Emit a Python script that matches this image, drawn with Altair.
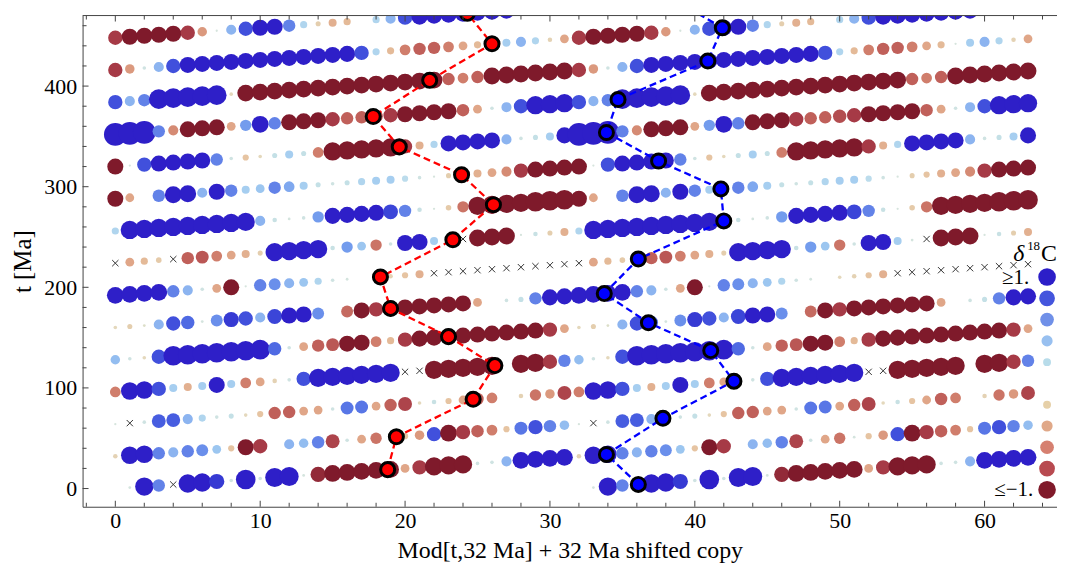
import altair as alt
import pandas as pd

X = None  # no data (drawn as a cross)
PERIOD = 32

# delta-18 values, one list per 32 Ma block (t = 32*k + m)
ROW_000 = [0.0, 0.03, 1.3, 0.6, X, 1.3, 1.3, 0.9, 0.05, 1.5, 0.05, 1.4, 1.4, 0.03, -0.9, -1.1,
           -1.1, -1.1, -1.1, -1.1, -0.3, -0.8, -1.3, -1.3, -1.3, 0.05, 0.05, 0.4, 1.1, 1.1, 1.1, 1.1]
ROW_032 = [-0.08, 1.2, 1.2, 0.6, 0.4, 0.6, 0.55, 0.3, -0.15, -1.0, -0.8, 0.0, 0.4, 0.35, 0.6, -0.75,
           0.05, -0.3, -0.5, 0.03, -0.15, -0.35, 0.8, -1.1, -0.8, -0.6, -0.45, -0.15, 0.65, 0.8, 0.6, 0.35]
ROW_064 = [0.02, X, 0.05, 0.75, 0.75, 0.4, 0.2, 0.05, 0.1, -0.05, -0.15, -0.6, -0.6, -0.3, -0.3, 0.05,
           0.65, 0.65, -0.3, -0.6, -0.75, -0.05, 0.08, -0.15, -0.3, -0.6, -0.45, 0.0, -0.08, -0.5, -0.35, -0.75]
ROW_096 = [-0.45, 1.2, 1.2, 0.8, 0.25, -0.25, 0.25, 1.0, 0.25, -0.45, -0.3, -0.08, 0.05, 0.8, 1.3, 1.3,
           1.3, 1.3, 1.3, 1.3, X, X, -1.3, -1.3, -1.3, -1.3, -1.3, 0.0, -1.3, -1.3, -0.8, 0.6]
ROW_128 = [0.35, 0.05, -0.05, 0.8, 1.5, 1.5, 1.5, 1.5, 1.5, 1.5, 1.5, 0.7, 0.05, -0.3, -0.6, -0.65,
           -1.0, -1.0, -0.45, -0.2, -0.8, -1.0, -1.0, -1.0, -1.0, -1.0, -1.0, -1.0, -1.0, -1.0, -0.8, -0.3]
ROW_160 = [-0.05, -0.1, -0.03, 0.4, 0.8, 0.7, 0.03, 0.55, 0.9, 0.8, 0.4, 0.85, 1.0, 1.0, 0.55, 0.0,
           -0.55, -1.0, -0.8, -1.0, -1.0, -1.0, -1.0, -1.0, -1.0, -0.3, 0.0, 0.05, 0.1, 0.6, 1.0, 1.0]
ROW_192 = [1.1, 1.1, 1.1, 1.1, 0.6, 0.4, 0.05, -0.3, -1.0, 0.02, 0.6, 0.55, 0.4, 0.3, 0.2, 0.05,
           0.03, 0.0, -0.05, -0.08, -0.15, -0.25, X, X, X, X, X, X, X, X, X, X]
ROW_224 = [X, -0.3, -0.2, -0.12, X, -0.6, -0.65, -0.45, -0.3, -0.25, -0.1, 1.3, 1.3, 1.3, 1.3, 0.08,
           0.5, 0.3, -0.5, 0.05, 1.0, 1.0, 0.25, 0.03, X, -1.1, -1.1, -1.1, 0.02, 0.08, -0.1, -0.25]
ROW_256 = [0.2, 1.3, 1.3, 1.3, 1.3, 1.3, 1.3, 1.3, 1.3, 1.3, 0.4, 0.08, 0.03, 0.05, 0.5, 1.0,
           1.0, 1.0, 1.0, 0.85, 0.6, 0.08, 0.02, -0.12, -0.5, -1.3, -1.3, -1.3, -1.3, -1.5, -1.5, -1.5]
ROW_288 = [-1.0, -0.3, 0.0, 0.6, 1.1, 1.1, 0.4, 1.0, 0.6, 0.25, 0.3, 0.6, 0.45, 0.25, 0.1, 0.05,
           0.1, 0.2, 0.25, 0.25, 0.15, 0.05, 0.02, -0.1, -0.15, -0.25, -0.3, -0.4, -0.8, -1.0, -1.0, -1.0]
ROW_320 = [-1.0, 0.02, 0.8, 1.0, 1.0, 1.0, 1.0, 0.6, 0.05, -0.15, -0.05, 0.1, 0.25, 0.1, -0.45, -1.3,
           -1.3, -1.3, -1.3, -1.3, -0.8, -0.25, 0.2, 1.0, 1.0, 1.0, 1.0, 0.4, 0.05, 0.1, 0.25, 1.0]
ROW_352 = [2.0, 2.0, 2.0, 0.6, -0.4, -1.0, -1.0, -1.0, -0.3, 0.5, 1.1, 0.6, -1.0, -1.0, -1.0, -0.8,
           -0.6, -0.6, -0.7, -0.8, -1.0, -1.0, -1.0, -1.0, -0.6, -0.3, 0.05, 0.4, 0.8, 1.3, 1.3, 1.3]
ROW_384 = [0.8, 0.4, 0.6, 1.5, 1.5, 1.5, 1.5, 1.5, -0.05, -1.1, -1.1, -1.1, -1.1, -1.1, -1.1, -1.1,
           -1.1, -1.1, -1.1, -1.1, -1.1, -1.1, -1.1, -0.6, -0.45, -0.6, -1.1, -1.1, -1.1, -1.1, -1.1, -1.1]
ROW_416 = [-0.8, -0.35, 0.05, 0.4, 0.8, 1.0, 1.0, 1.0, 1.0, 1.0, 1.0, 1.0, 1.0, 1.0, 1.0, 1.0,
           1.0, 0.8, 0.2, -0.2, -0.45, -0.6, -0.6, -0.45, -0.3, -0.2, 0.02, 0.25, 0.4, 0.2, -0.08, -0.3]
ROW_448 = [-0.8, -1.0, -1.0, -1.0, -1.0, -0.8, -0.35, 0.02, 0.4, 0.8, 1.0, 1.0, 0.6, 0.2, -0.1, -0.25,
           -0.2, 0.0, 0.2, 0.4, 0.8, 1.0, 1.0, 1.0, 1.0, 1.0, 1.0, 1.0, 0.2, 0.1, 0.1, 0.1]

ROWS = [ROW_000, ROW_032, ROW_064, ROW_096, ROW_128, ROW_160, ROW_192, ROW_224,
        ROW_256, ROW_288, ROW_320, ROW_352, ROW_384, ROW_416, ROW_448]

# times of the marked minima (red, left copy) and maxima (blue, shifted copy)
RED_T = [18.8, 51.4, 88.7, 122.2, 151.0, 179.0, 210.3, 247.3, 282.1, 311.9, 339.6, 369.8, 405.7, 442.0, 472.3]
BLUE_T = [4.1, 33.9, 69.8, 106.7, 137.1, 164.8, 193.75, 228.1, 266.0, 297.8, 325.5, 353.9, 386.7, 424.9, 457.9, 486.5]

LEGEND_VALUES = [1.0, 0.8, 0.6, 0.4, 0.2, -0.2, -0.4, -0.6, -0.8, -1.0]
LEGEND_SLOTS = [0, 1, 2, 3, 4, 6, 7, 8, 9, 10]
LEGEND_COLORS = ["#2c1ec8", "#4455dd", "#7090e8", "#98c0f0", "#b8dcea",
                 "#e6d0a8", "#e0a888", "#d68070", "#b84a50", "#801a2a"]

X_MAJOR = [0, 10, 20, 30, 40, 50, 60]
X_MINOR = [-2, 2, 4, 6, 8, 12, 14, 16, 18, 22, 24, 26, 28, 32, 34, 36, 38, 42, 44, 46, 48,
           52, 54, 56, 58, 62, 64]
Y_MAJOR = [0, 100, 200, 300, 400]
Y_MINOR = [20, 40, 60, 80, 120, 140, 160, 180, 220, 240, 260, 280, 320, 340, 360, 380,
           420, 440, 460]

C_DOMAIN = [-1, -0.8, -0.6, -0.45, -0.3, -0.15, -0.05, 0, 0.05, 0.15, 0.25, 0.4, 0.6, 0.8, 1]
C_RANGE = ["#7f1a2b", "#a63a46", "#c0605a", "#d07e6c", "#e0a688", "#e6c4a2", "#e4d8bc", "#dce4dc",
           "#cfe3e2", "#bcdcec", "#a6cef0", "#8cb4f0", "#6282e8", "#4150dc", "#2e1fc8"]

# ---- tables ----
pts, miss = [], []
for k, row in enumerate(ROWS):
    for m, v in enumerate(row):
        t = PERIOD * k + m
        for shift in (0, PERIOD):
            if v is None:
                miss.append({"x": m + shift, "t": t})
            else:
                pts.append({"x": m + shift, "t": t, "v": v, "a": abs(v)})
pts_df = pd.DataFrame(pts)
miss_df = pd.DataFrame(miss)
red_df = pd.DataFrame({"t": RED_T})
red_df["x"] = red_df["t"] % PERIOD
blue_df = pd.DataFrame({"t": BLUE_T})
blue_df["x"] = blue_df["t"] % PERIOD + PERIOD
leg_df = pd.DataFrame({"val": LEGEND_VALUES, "slot": LEGEND_SLOTS, "a": [abs(v) for v in LEGEND_VALUES]})
dummy = pd.DataFrame({"d": [0]})

W, H = 980, 494
FONT = "Liberation Serif"
AX = "#444444"

xs = alt.Scale(domain=[-2.26, 65.0], nice=False, zero=False)
ys = alt.Scale(domain=[-18.1, 470.1], nice=False, zero=False)

x_axis = alt.Axis(values=X_MAJOR, format="d", ticks=False, tickSize=0, grid=False, domainColor=AX,
                  labelFont=FONT, labelFontSize=22, labelColor="black", labelPadding=4,
                  title="Mod[t,32 Ma] + 32 Ma shifted copy", titleFont=FONT, titleFontSize=24,
                  titleFontWeight="normal", titleColor="black", titlePadding=7)
y_axis = alt.Axis(values=Y_MAJOR, format="d", ticks=False, tickSize=0, grid=False, domainColor=AX,
                  labelFont=FONT, labelFontSize=22, labelColor="black", labelPadding=6,
                  title="t [Ma]", titleFont=FONT, titleFontSize=25, titleFontWeight="normal",
                  titleColor="black", titlePadding=8)


def XE(field):
    return alt.X(field, scale=xs, axis=x_axis)


def YE(field):
    return alt.Y(field, scale=ys, axis=y_axis)


bubbles = alt.Chart(pts_df).mark_circle(opacity=1, clip=True).encode(
    x=XE("x:Q"),
    y=YE("t:Q"),
    color=alt.Color("v:Q", scale=alt.Scale(domain=C_DOMAIN, range=C_RANGE, clamp=True), legend=None),
    size=alt.Size("a:Q", scale=alt.Scale(domain=[0, 2], range=[0, 520]), legend=None),
    order=alt.Order("t:Q"),
)

crosses = alt.Chart(miss_df).mark_point(
    shape="M-1,-1L1,1M-1,1L1,-1", filled=False, color="#333333", strokeWidth=1, size=40,
    opacity=1, clip=True
).encode(x=XE("x:Q"), y=YE("t:Q"))


def track(df, col):
    line = alt.Chart(df).mark_line(color=col, strokeDash=[7, 4], strokeWidth=2.3, clip=True).encode(
        x=XE("x:Q"), y=YE("t:Q"), order=alt.Order("t:Q"))
    dots = alt.Chart(df).mark_circle(color=col, stroke="black", strokeWidth=3, size=200, opacity=1,
                                     clip=True).encode(x=XE("x:Q"), y=YE("t:Q"))
    return line + dots


def xticks(vals, length, top):
    df = pd.DataFrame({"p": vals})
    if top:
        yy, yy2 = alt.value(0), alt.value(length)
    else:
        yy, yy2 = alt.value(H), alt.value(H - length)
    return alt.Chart(df).mark_rule(color=AX, strokeWidth=1).encode(x=XE("p:Q"), y=yy, y2=yy2)


def yticks(vals, length):
    df = pd.DataFrame({"p": vals})
    return alt.Chart(df).mark_rule(color=AX, strokeWidth=1).encode(
        y=YE("p:Q"), x=alt.value(0), x2=alt.value(length))


top_line = alt.Chart(dummy).mark_rule(color=AX, strokeWidth=1).encode(
    x=alt.value(0), x2=alt.value(W), y=alt.value(0))

main = alt.layer(
    bubbles, crosses, track(red_df, "#ff0000"), track(blue_df, "#0000ff"),
    xticks(X_MAJOR, 6, False), xticks(X_MINOR, 4, False),
    xticks(X_MAJOR, 6, True), xticks(X_MINOR, 4, True),
    yticks(Y_MAJOR, 6), yticks(Y_MINOR, 4), top_line,
)

legend_dots = alt.Chart(leg_df).mark_circle(opacity=1).encode(
    x=alt.value(970),
    y=alt.Y("slot:Q", scale=alt.Scale(domain=[0, 10], range=[263, 477]), axis=None),
    color=alt.Color("val:N", scale=alt.Scale(domain=LEGEND_VALUES, range=LEGEND_COLORS), legend=None),
    size=alt.Size("a:Q", scale=alt.Scale(domain=[0, 1], range=[0, 314]), legend=None),
)


def label(text, x, y, size=21, align="right", baseline="middle", style="normal"):
    return alt.Chart(dummy).mark_text(text=text, font=FONT, fontSize=size, align=align,
                                      baseline=baseline, fontStyle=style, color="black").encode(
        x=alt.value(x), y=alt.value(y))


legend = alt.layer(
    legend_dots,
    label("\u2265" + "1.", 952, 264),
    label("\u2264\u22121.", 956, 477),
    label("\u03b4", 936, 247, size=24, align="left", baseline="alphabetic", style="italic"),
    label("18", 950, 236, size=13, align="left", baseline="alphabetic"),
    label("C", 964, 247, size=24, align="left", baseline="alphabetic"),
)

chart = alt.layer(main, legend).resolve_scale(
    y="independent", size="independent", color="independent"
).properties(
    width=W, height=H,
    autosize=alt.AutoSizeParams(type="none"),
    padding={"left": 75, "top": 6, "right": 0, "bottom": 58},
).configure_view(stroke=None)

chart.save("out.html", embed_options={"renderer": "svg", "actions": False})
